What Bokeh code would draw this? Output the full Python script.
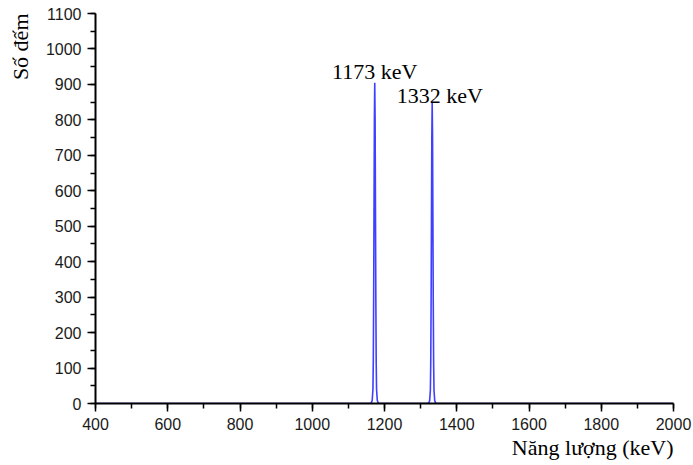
from bokeh.plotting import figure
from bokeh.models import Label, SingleIntervalTicker, Range1d, Title
from bokeh.embed import file_html
from bokeh.resources import INLINE

# Spectrum (energy in keV, counts)
energy_keV = [400,
              1161, 1164, 1166, 1168, 1169, 1170, 1171, 1172, 1173,
              1174, 1175, 1176, 1177, 1178, 1180, 1182, 1185,
              1320, 1323, 1325, 1327, 1328, 1329, 1330, 1331, 1332,
              1333, 1334, 1335, 1336, 1337, 1339, 1341, 1344,
              2000]
counts = [0,
          0, 3, 9, 40, 120, 300, 550, 800, 905,
          800, 550, 300, 120, 40, 9, 3, 0,
          0, 3, 8, 38, 113, 282, 517, 752, 850,
          752, 517, 282, 113, 38, 8, 3, 0,
          0]

peak_energies = [1173, 1332]
peak_labels = ["1173 keV", "1332 keV"]

x_label = "Năng lượng (keV)"
y_label = "Số đếm"

serif = "Liberation Serif"

p = figure(width=693, height=465, output_backend="svg", toolbar_location=None,
           title_location=None,
           x_range=Range1d(400, 2000), y_range=Range1d(0, 1100),
           min_border_left=95, min_border_right=20, min_border_top=13,
           min_border_bottom=62)
p.outline_line_color = None
p.xgrid.visible = False
p.ygrid.visible = False
p.background_fill_color = "white"
p.border_fill_color = "white"

p.line(energy_keV, counts, line_color="#3f3fff", line_width=1.6)

p.xaxis.ticker = SingleIntervalTicker(interval=200, num_minor_ticks=2)
p.yaxis.ticker = SingleIntervalTicker(interval=100, num_minor_ticks=2)
for ax in (p.xaxis[0], p.yaxis[0]):
    ax.axis_line_width = 2
    ax.axis_line_color = "black"
    ax.major_tick_line_color = "black"
    ax.minor_tick_line_color = "black"
    ax.major_tick_line_width = 1.5
    ax.minor_tick_line_width = 1.5
    ax.major_tick_in = 0
    ax.minor_tick_in = 0
    ax.major_tick_out = 8
    ax.minor_tick_out = 5
    ax.major_label_text_font = "Liberation Sans"
    ax.major_label_text_font_size = "16px"
    ax.major_label_text_color = "#1a1a1a"
p.xaxis.major_label_standoff = 6
p.yaxis.major_label_standoff = 6

# peak annotations
p.add_layout(Label(x=peak_energies[0], y=936, text=peak_labels[0],
                   text_font=serif, text_font_size="22px", text_color="black",
                   text_align="center", text_baseline="alphabetic"))
p.add_layout(Label(x=peak_energies[1] - 98, y=869, text=peak_labels[1],
                   text_font=serif, text_font_size="22px", text_color="black",
                   text_align="left", text_baseline="alphabetic"))

# axis titles
p.add_layout(Title(text=x_label, align="right", text_font=serif,
                   text_font_size="22px", text_font_style="normal",
                   text_color="black", standoff=0), "below")
p.add_layout(Title(text=y_label, align="right", vertical_align="top",
                   text_font=serif,
                   text_font_size="22px", text_font_style="normal",
                   text_color="black", standoff=15), "left")

open("out.html", "w").write(file_html(p, INLINE))
